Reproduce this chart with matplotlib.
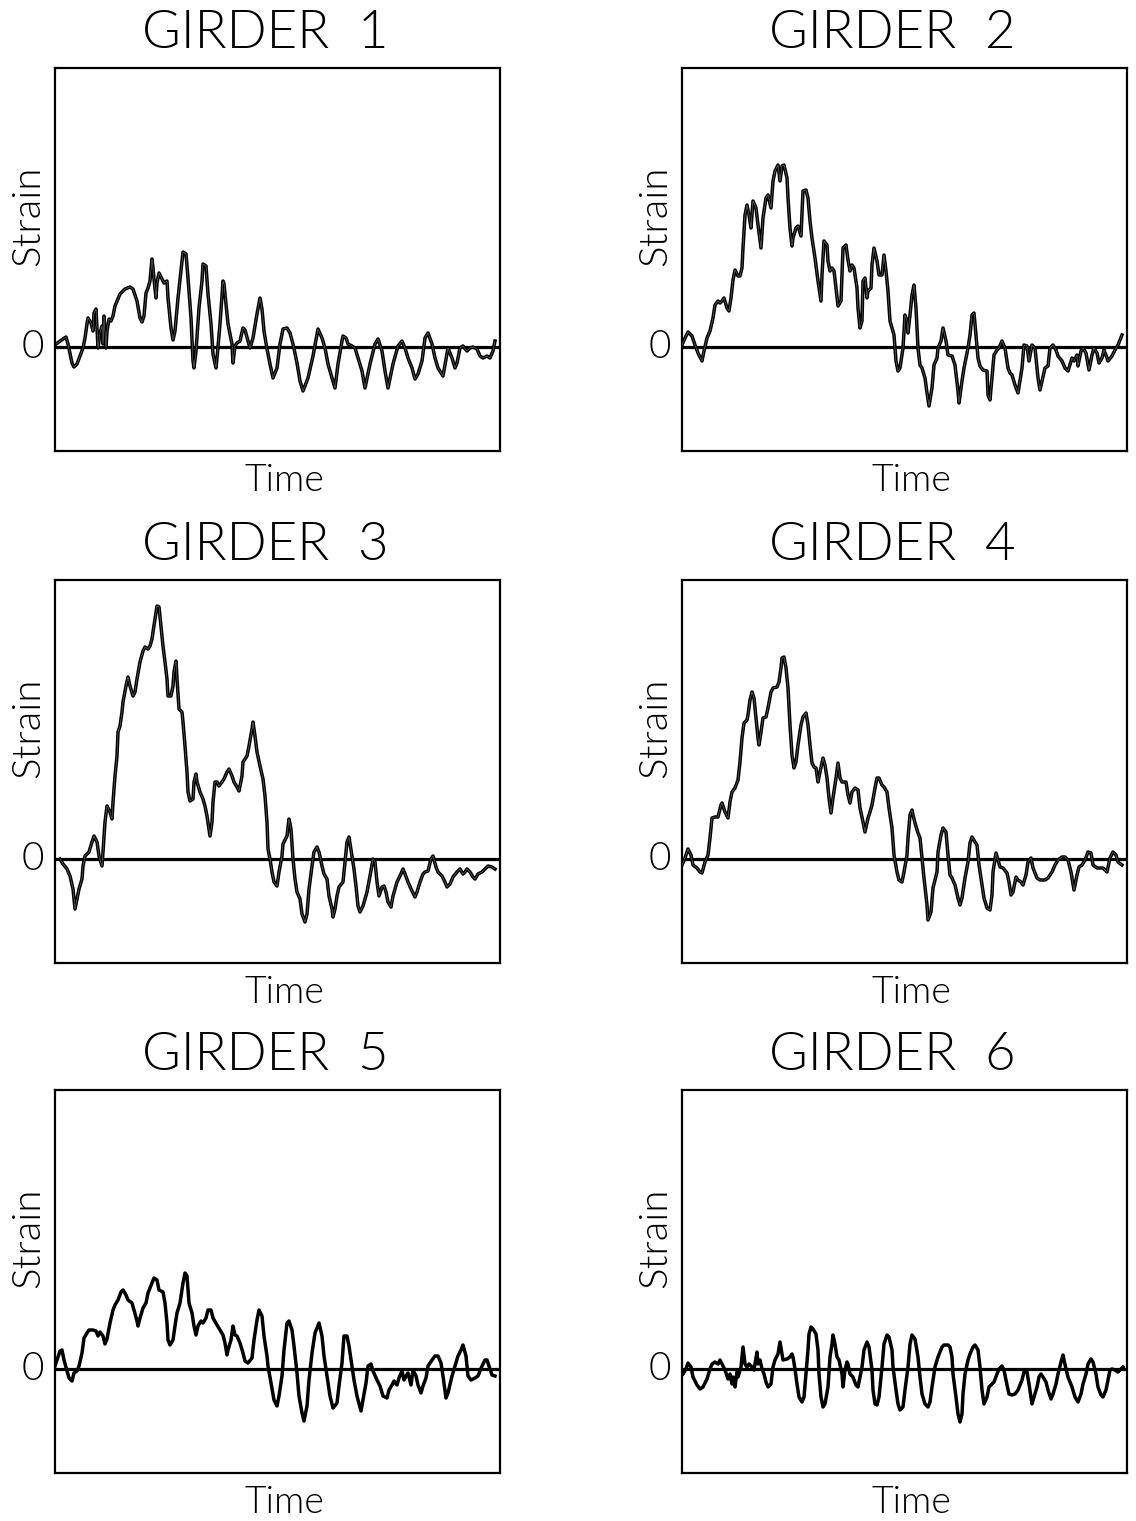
import matplotlib
matplotlib.use("Agg")
import matplotlib.pyplot as plt

# time and strain (arbitrary units; time spans 0-445,
# strain is measured upward from the zero line)
g1_time = [1, 8, 11, 13, 17, 19, 22, 25, 28, 30, 32, 33, 36, 38, 39, 41, 42, 43, 45, 47,
           48, 49, 51, 52, 54, 56, 58, 60, 65, 70, 75, 78, 82, 85, 87, 89, 91, 93, 95, 97,
           98, 99, 101, 102, 104, 107, 109, 112, 113, 116, 118, 120, 123, 127, 128, 131, 133, 136, 138, 139,
           141, 144, 147, 148, 151, 153, 156, 158, 161, 162, 165, 168, 169, 171, 173, 177, 178, 180, 182, 185,
           188, 190, 193, 195, 198, 202, 205, 207, 209, 212, 215, 218, 222, 225, 228, 232, 235, 238, 242, 245,
           248, 253, 258, 263, 267, 270, 273, 277, 280, 283, 287, 288, 291, 293, 297, 300, 303, 307, 310, 315,
           320, 323, 327, 330, 333, 338, 343, 347, 350, 353, 357, 360, 363, 367, 370, 373, 377, 380, 383, 388,
           393, 397, 400, 402, 405, 408, 412, 415, 418, 422, 425, 428, 432, 435, 438, 440]
g1_strain = [3, 8, 10, 3, -16, -20, -17, -9, -1, 9, 23, 29, 24, 16, 34, 38, 19, -1, 14, 21,
             3, 31, -1, 16, 28, 26, 31, 41, 53, 58, 60, 58, 46, 29, 25, 31, 54, 59, 66, 88,
             79, 68, 49, 64, 74, 68, 64, 66, 49, 19, 7, 16, 49, 86, 95, 93, 69, 29, -14, -21,
             -4, 39, 66, 83, 81, 53, 23, -7, -21, -11, 23, 66, 63, 43, 23, 3, -16, 1, 4, 6,
             19, 17, 6, -1, 9, 33, 49, 38, 16, -2, -17, -31, -21, 3, 18, 19, 14, 3, -16, -34,
             -44, -31, -9, 18, 9, -1, -17, -31, -41, -17, 6, 11, 9, 3, 1, -1, -11, -24, -41, -17,
             3, 8, -4, -24, -41, -17, 1, 6, -1, -11, -21, -32, -27, -14, 9, 14, 3, -11, -21, -29,
             -1, -11, -21, -16, -1, 1, -4, -1, 0, -2, -9, -11, -9, -11, -4, 6]

g2_time = [0, 3, 6, 10, 13, 16, 20, 22, 25, 28, 31, 33, 36, 38, 40, 42, 45, 47, 49, 51,
           53, 56, 58, 60, 61, 63, 65, 67, 69, 71, 74, 76, 79, 81, 84, 86, 89, 91, 93, 96,
           98, 100, 102, 105, 106, 108, 110, 111, 114, 116, 119, 121, 124, 126, 128, 130, 133, 136, 139, 140,
           142, 145, 146, 148, 150, 152, 154, 156, 159, 161, 164, 166, 168, 170, 172, 175, 176, 178, 180, 181,
           183, 185, 186, 189, 190, 192, 195, 197, 200, 202, 204, 206, 208, 210, 212, 214, 216, 218, 221, 223,
           225, 226, 228, 230, 232, 234, 236, 238, 240, 243, 245, 247, 250, 252, 255, 256, 259, 261, 264, 266,
           270, 273, 276, 277, 280, 282, 284, 286, 288, 290, 292, 294, 296, 298, 301, 305, 306, 308, 310, 312,
           315, 317, 320, 323, 326, 328, 330, 333, 336, 340, 342, 345, 347, 350, 353, 356, 358, 360, 363, 366,
           368, 371, 374, 376, 380, 383, 386, 390, 392, 395, 396, 399, 401, 404, 407, 410, 412, 415, 417, 420,
           422, 425, 426, 430, 433, 436, 440]
g2_strain = [2, 9, 15, 11, 2, -6, -14, -4, 9, 16, 29, 42, 46, 44, 46, 49, 39, 36, 49, 67,
             77, 71, 71, 79, 99, 132, 142, 132, 119, 146, 139, 122, 99, 129, 149, 152, 139, 166, 176, 182,
             166, 181, 182, 169, 149, 119, 101, 109, 119, 121, 111, 156, 157, 149, 126, 109, 89, 66, 46, 72,
             106, 102, 86, 76, 79, 76, 59, 41, 46, 99, 102, 87, 76, 82, 79, 59, 39, 19, 26, 66,
             69, 49, 56, 59, 82, 99, 86, 72, 72, 92, 76, 56, 26, 19, 12, -14, -24, -21, -1, 32,
             26, 14, 32, 52, 62, 39, -1, -18, -21, -31, -46, -59, -41, -18, -11, -1, 6, 19, 6, -8,
             -9, -18, -44, -56, -34, -21, -11, -1, 12, 32, 34, 12, -11, -19, -23, -24, -48, -53, -31, -8,
             -3, -1, 6, -1, -21, -26, -28, -38, -46, -21, 2, 1, -14, 2, -1, -31, -43, -34, -21, -19,
             -1, 2, -3, -9, -14, -21, -24, -11, -14, -8, -19, -4, -1, -6, -23, -8, -1, -6, -16, -11,
             -3, -11, -14, -9, -3, 2, 12]

g3_time = [5, 8, 12, 15, 18, 20, 22, 24, 27, 28, 30, 32, 34, 37, 39, 42, 44, 47, 48, 50,
           52, 55, 57, 58, 60, 62, 63, 65, 67, 68, 71, 73, 75, 78, 80, 82, 85, 88, 90, 93,
           95, 97, 98, 100, 102, 104, 106, 108, 110, 112, 113, 116, 118, 119, 121, 122, 124, 127, 128, 130,
           132, 133, 135, 138, 139, 141, 142, 145, 148, 150, 152, 155, 157, 158, 160, 162, 164, 167, 169, 172,
           174, 177, 179, 182, 184, 187, 188, 192, 194, 197, 198, 200, 202, 205, 208, 210, 212, 213, 215, 217,
           219, 222, 224, 227, 228, 232, 234, 236, 238, 240, 242, 245, 247, 250, 252, 254, 257, 259, 262, 264,
           267, 269, 272, 274, 277, 278, 280, 282, 284, 288, 290, 292, 294, 297, 299, 301, 303, 305, 308, 312,
           315, 318, 320, 322, 324, 327, 329, 331, 333, 336, 338, 342, 345, 348, 350, 353, 357, 360, 362, 365,
           368, 370, 373, 376, 378, 381, 383, 387, 390, 392, 395, 398, 402, 405, 408, 410, 412, 415, 418, 420,
           423, 427, 430, 433, 437, 440]
g3_strain = [0, -5, -10, -17, -30, -50, -40, -30, -20, -7, 3, 5, 7, 17, 23, 17, 3, -7, 7, 37,
             53, 47, 40, 57, 83, 103, 127, 133, 147, 157, 173, 182, 173, 163, 167, 180, 197, 208, 212, 210,
             213, 220, 227, 240, 253, 252, 233, 213, 197, 180, 163, 163, 173, 187, 198, 180, 150, 147, 137, 113,
             87, 67, 58, 60, 77, 85, 77, 67, 60, 53, 43, 23, 37, 57, 77, 77, 73, 77, 80, 87,
             90, 83, 77, 72, 68, 83, 97, 103, 113, 130, 137, 123, 107, 93, 80, 63, 37, 10, 0, -13,
             -23, -27, -13, 3, 15, 23, 40, 30, 0, -20, -33, -40, -55, -63, -55, -30, -7, 7, 12, 7,
             -7, -15, -20, -37, -50, -58, -50, -37, -28, -23, -3, 17, 22, 3, -10, -27, -47, -53, -47, -33,
             -17, 0, -3, -23, -37, -28, -27, -33, -43, -48, -37, -23, -17, -10, -15, -23, -32, -38, -33, -23,
             -15, -13, -12, 0, 3, -8, -13, -17, -23, -28, -25, -18, -13, -10, -15, -13, -10, -13, -18, -20,
             -15, -13, -10, -7, -8, -10]

g4_time = [0, 3, 6, 9, 11, 15, 18, 20, 23, 26, 28, 30, 33, 36, 39, 40, 43, 46, 48, 50,
           53, 56, 58, 60, 62, 65, 66, 68, 70, 72, 74, 76, 77, 79, 81, 84, 86, 89, 91, 95,
           97, 99, 100, 102, 104, 106, 108, 110, 112, 114, 116, 119, 121, 124, 126, 128, 130, 132, 134, 136,
           138, 141, 143, 145, 147, 149, 151, 154, 156, 158, 160, 164, 166, 168, 170, 173, 176, 178, 181, 183,
           186, 188, 190, 193, 195, 197, 200, 202, 205, 207, 210, 212, 215, 217, 220, 222, 225, 226, 228, 230,
           231, 233, 236, 238, 240, 242, 245, 246, 249, 251, 255, 256, 259, 261, 264, 266, 268, 270, 273, 276,
           278, 280, 283, 286, 288, 290, 293, 295, 297, 300, 302, 305, 308, 310, 311, 314, 316, 318, 321, 325,
           327, 329, 331, 334, 336, 339, 341, 344, 346, 349, 351, 355, 358, 363, 366, 370, 373, 376, 380, 383,
           386, 389, 392, 395, 397, 400, 403, 406, 409, 411, 415, 418, 421, 425, 428, 431, 434, 436, 440]
g4_strain = [-6, 1, 10, 4, -6, -9, -13, -14, -3, 4, 21, 41, 42, 42, 54, 56, 47, 41, 57, 67,
             71, 79, 97, 121, 136, 139, 144, 159, 167, 161, 141, 121, 114, 127, 141, 142, 151, 167, 171, 172,
             177, 191, 201, 202, 191, 171, 134, 104, 91, 97, 114, 134, 142, 146, 134, 114, 96, 92, 91, 77,
             87, 101, 94, 81, 61, 46, 61, 81, 96, 81, 77, 77, 64, 56, 67, 71, 69, 51, 37, 27,
             41, 47, 54, 71, 81, 81, 74, 72, 67, 51, 31, 4, -13, -21, -23, -13, 4, 21, 44, 49,
             44, 36, 26, 21, 1, -19, -46, -61, -53, -29, -13, 7, 24, 31, 27, 4, -16, -19, -26, -39,
             -46, -39, -19, -3, 16, 22, 17, 14, -6, -26, -39, -49, -51, -36, -13, 6, -1, -8, -9, -14,
             -23, -36, -33, -18, -21, -23, -26, -16, -3, 1, -9, -19, -21, -21, -19, -13, -6, -1, 2, 2,
             -1, -13, -31, -16, -8, -6, -1, 7, 6, -6, -9, -9, -9, -13, 1, 7, 4, -3, -6]

g5_time = [0, 2, 5, 7, 9, 12, 14, 17, 19, 22, 24, 27, 29, 32, 34, 38, 41, 43, 45, 48,
           50, 52, 55, 58, 60, 63, 66, 68, 71, 73, 77, 79, 82, 83, 85, 88, 91, 93, 97, 99,
           102, 104, 108, 110, 112, 113, 115, 118, 120, 122, 125, 128, 130, 132, 134, 137, 139, 141, 143, 146,
           148, 151, 153, 156, 158, 162, 165, 168, 170, 172, 173, 176, 178, 180, 182, 185, 188, 190, 193, 197,
           199, 202, 204, 207, 209, 212, 213, 216, 219, 222, 224, 227, 229, 232, 234, 237, 239, 242, 244, 247,
           249, 252, 254, 257, 260, 264, 267, 269, 272, 275, 278, 282, 284, 287, 289, 292, 294, 297, 299, 302,
           306, 308, 311, 313, 316, 318, 322, 325, 328, 332, 334, 337, 339, 342, 344, 347, 349, 351, 353, 356,
           358, 361, 363, 366, 368, 371, 373, 377, 380, 383, 386, 388, 391, 393, 397, 400, 403, 406, 408, 411,
           413, 416, 420, 423, 427, 430, 432, 434, 437, 440]
g5_strain = [3, 9, 18, 19, 9, -2, -9, -12, -4, -2, 3, 16, 31, 36, 39, 39, 38, 33, 37, 33,
             25, 30, 46, 59, 64, 69, 77, 79, 74, 69, 66, 59, 48, 43, 51, 61, 66, 76, 86, 91,
             89, 79, 77, 66, 46, 29, 24, 29, 43, 56, 66, 86, 96, 93, 66, 56, 43, 34, 43, 48,
             46, 51, 59, 59, 51, 44, 39, 34, 26, 14, 19, 29, 43, 34, 33, 26, 16, 8, 6, 11,
             29, 49, 59, 53, 33, 13, 3, -14, -31, -37, -27, -7, 19, 46, 48, 39, 23, -4, -27, -44,
             -52, -37, -11, 16, 36, 46, 33, 13, -7, -27, -39, -34, -17, 6, 33, 33, 23, 3, -11, -27,
             -42, -31, -14, 3, 5, -2, -11, -17, -27, -29, -21, -16, -12, -16, -9, -2, -11, -7, -4, -16,
             -1, -7, -16, -24, -17, -9, 3, 9, 13, 13, 6, -7, -29, -24, -7, 3, 13, 19, 24, 13,
             -7, -11, -9, -7, 3, 9, 9, 3, -6, -7]

g6_time = [1, 4, 6, 9, 11, 15, 18, 21, 25, 28, 30, 33, 36, 38, 40, 43, 46, 48, 50, 51,
           53, 55, 56, 59, 61, 63, 65, 67, 70, 72, 75, 76, 78, 80, 82, 84, 86, 89, 91, 93,
           96, 98, 100, 101, 105, 108, 110, 111, 113, 115, 117, 120, 122, 124, 126, 127, 129, 131, 134, 136,
           137, 139, 141, 143, 146, 148, 150, 151, 153, 155, 157, 160, 161, 163, 165, 166, 168, 171, 174, 176,
           178, 180, 182, 185, 187, 190, 191, 193, 195, 197, 200, 202, 205, 207, 210, 211, 214, 216, 218, 221,
           223, 226, 228, 230, 233, 236, 238, 240, 243, 246, 248, 250, 253, 256, 260, 262, 266, 268, 270, 271,
           274, 276, 278, 280, 281, 283, 286, 288, 291, 293, 296, 298, 300, 302, 305, 307, 310, 312, 315, 317,
           320, 322, 325, 327, 330, 333, 336, 340, 342, 345, 347, 350, 352, 355, 357, 359, 361, 364, 366, 369,
           371, 374, 376, 379, 381, 382, 384, 386, 390, 393, 396, 399, 401, 404, 406, 409, 411, 414, 416, 419,
           421, 424, 426, 428, 430, 433, 436, 439, 441]
g6_strain = [-5, 0, 6, 2, -8, -16, -20, -18, -10, 0, 5, 7, 5, 9, 5, -1, -10, -5, -15, -8,
             -18, -3, -8, 2, 22, 5, 2, 5, 2, -1, 17, 5, 9, 0, -5, -13, -18, -15, 2, 9,
             15, 27, 15, 9, 10, 12, 15, 12, 0, -15, -28, -33, -28, -5, 19, 35, 42, 40, 35, 19,
             -5, -28, -38, -35, -18, 12, 25, 34, 25, 12, 9, -5, -18, -1, 7, 5, -5, -8, -16, -18,
             -8, 2, 19, 27, 22, -1, -21, -35, -36, -28, 2, 25, 34, 32, 19, 2, -21, -35, -41, -38,
             -21, 2, 25, 34, 30, 12, -8, -25, -35, -38, -33, -18, 2, 12, 22, 24, 24, 22, 12, -5,
             -28, -45, -53, -45, -25, -5, 9, 15, 22, 24, 19, 2, -21, -35, -28, -18, -15, -13, -5, 0,
             3, -1, -16, -25, -26, -25, -21, -11, -3, -3, -15, -35, -28, -18, -8, -5, -8, -13, -21, -30,
             -25, -15, -5, 7, 14, 9, 0, -8, -18, -28, -33, -25, -15, -5, 5, 10, 7, -5, -18, -26,
             -28, -21, -11, -1, 0, -1, -3, 0, 2]

titles = ["GIRDER  1", "GIRDER  2", "GIRDER  3", "GIRDER  4", "GIRDER  5", "GIRDER  6"]
traces = [(g1_time, g1_strain), (g2_time, g2_strain), (g3_time, g3_strain),
          (g4_time, g4_strain), (g5_time, g5_strain), (g6_time, g6_strain)]

FONT = dict(family="Lato", weight=300, color="black")
W, H = 1136, 1521
fig = plt.figure(figsize=(W / 100, H / 100), dpi=100)

# panel boxes in pixels: left, top
lefts = [55, 682]
tops = [68, 580, 1090]
box_w, box_h = 445, 383

for i, ((t, s), title) in enumerate(zip(traces, titles)):
    row, col = divmod(i, 2)
    x0, y0 = lefts[col], tops[row]
    ax = fig.add_axes([x0 / W, 1 - (y0 + box_h) / H, box_w / W, box_h / H])
    ax.axhline(0, color="black", lw=2.3, zorder=1)
    ax.plot(t, s, color="black", lw=2.5, solid_joinstyle="round", zorder=2)
    if i < 4:
        # second (overlapping) trace shows as a faint core line
        ax.plot(t, s, color="#9a9a9a", lw=0.3, zorder=3)
    ax.set_xlim(0, 445)
    ax.set_ylim(-104, 279)
    ax.set_xticks([])
    ax.set_yticks([])
    for sp in ax.spines.values():
        sp.set_linewidth(1.6)

    cx = x0 + box_w / 2
    fig.text((cx - 12) / W, 1 - (y0 - 35) / H, title, ha="center", va="center",
             fontsize=38, **FONT)
    fig.text((cx + 7) / W, 1 - (y0 + box_h + 30) / H, "Time", ha="center", va="center",
             fontsize=27, **FONT)
    fig.text((x0 - 27) / W, 1 - (y0 + 148) / H, "Strain", ha="center", va="center",
             rotation=90, fontsize=29, **FONT)
    zero_px = y0 + box_h * 279 / (279 + 104)
    fig.text((x0 - 22) / W, 1 - zero_px / H, "0", ha="center", va="center",
             fontsize=28, **FONT)

fig.savefig("out.png", dpi=100, facecolor="white")
